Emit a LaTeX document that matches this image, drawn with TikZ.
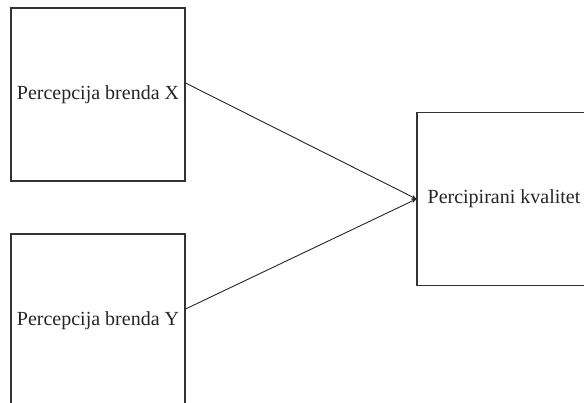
\documentclass[tikz,border=0pt]{standalone}
\usepackage{fontspec}
\setmainfont{Liberation Serif}
\usetikzlibrary{arrows.meta,calc}
\begin{document}
\begin{tikzpicture}[x=1pt,y=-1pt,
  box/.style={draw=black!80,line width=1.1pt,minimum width=174pt,minimum height=173pt,inner sep=0pt,font=\fontsize{20}{24}\selectfont,text=black!85},
  conn/.style={draw=black!85,line width=0.9pt,-{Stealth[length=5pt,width=4pt]}}]
\useasboundingbox[fill=white] (0,0) rectangle (584,402);
\node[box] (b1) at (98,94.5) {Percepcija brenda X};
\node[box] (b2) at (98,320.5) {Percepcija brenda Y};
\node[box] (b3) at (504,199) {Percipirani kvalitet};
\draw[conn] ($(b1.east)+(0,-11.5)$) -- (b3.west);
\draw[conn] ($(b2.east)+(0,-11.5)$) -- (b3.west);
\end{tikzpicture}
\end{document}
